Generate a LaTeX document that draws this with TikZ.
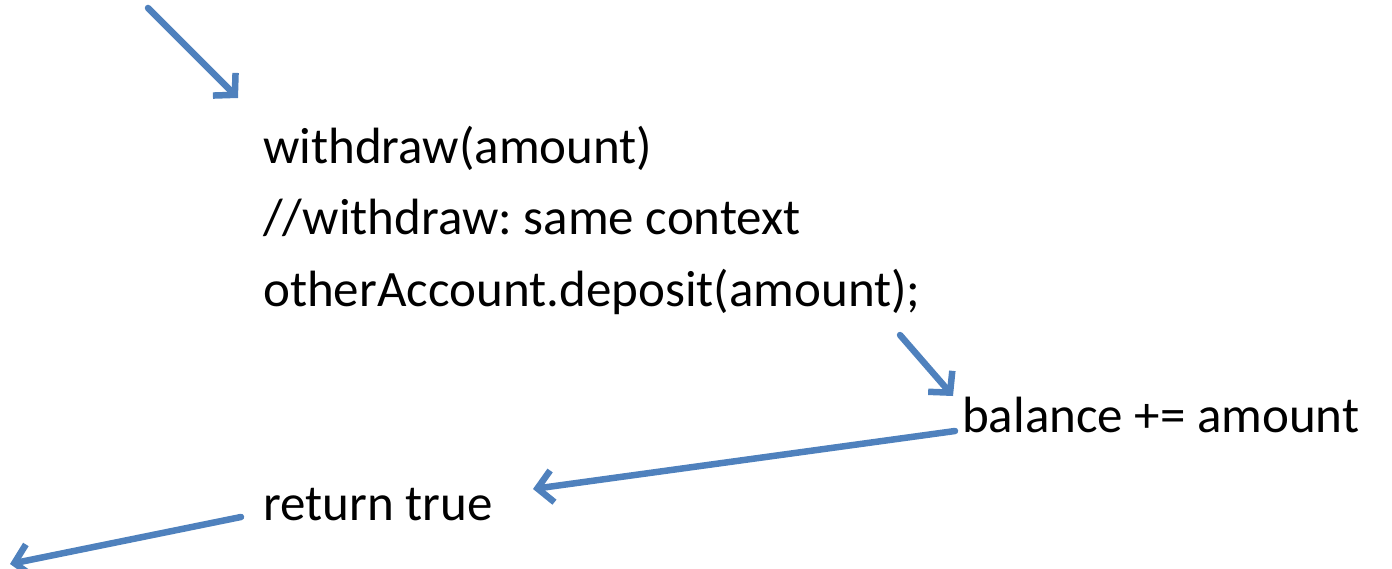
\documentclass[tikz,border=0pt]{standalone}
\usepackage{fontspec}
\setmainfont{Carlito}
\usetikzlibrary{arrows.meta}
\definecolor{arrowblue}{RGB}{79,129,189}
\frenchspacing
\begin{document}
\begin{tikzpicture}[x=1pt,y=-1pt,
  code/.style={anchor=base west,inner sep=0pt,font=\fontsize{51}{58}\selectfont},
  flow/.style={draw=arrowblue,line width=6.5pt,line cap=round,
    -{Straight Barb[length=15pt,width=32pt,line width=6.5pt]}}]
\useasboundingbox (0,0) rectangle (1392,569);
\node[code] (w)  at (263,164) {withdraw(amount)};
\node[code] (c)  at (263,235) {//withdraw: same context};
\node[code] (d)  at (263,307) {otherAccount.deposit(amount);};
\node[code] (b)  at (962,432) {balance += amount};
\node[code] (r)  at (263,520) {return true};
\coordinate (a1s) at (148,8);
\coordinate (a1e) at (238,98);
\coordinate (a2s) at (900,335);
\coordinate (a2e) at (953,396);
\coordinate (a3s) at (955,431);
\coordinate (a3e) at (533,489);
\coordinate (a4s) at (241,517);
\coordinate (a4e) at (10,564);
\draw[flow] (a1s) -- (a1e);
\draw[flow] (a2s) -- (a2e);
\draw[flow] (a3s) -- (a3e);
\draw[flow] (a4s) -- (a4e);
\end{tikzpicture}
\end{document}
